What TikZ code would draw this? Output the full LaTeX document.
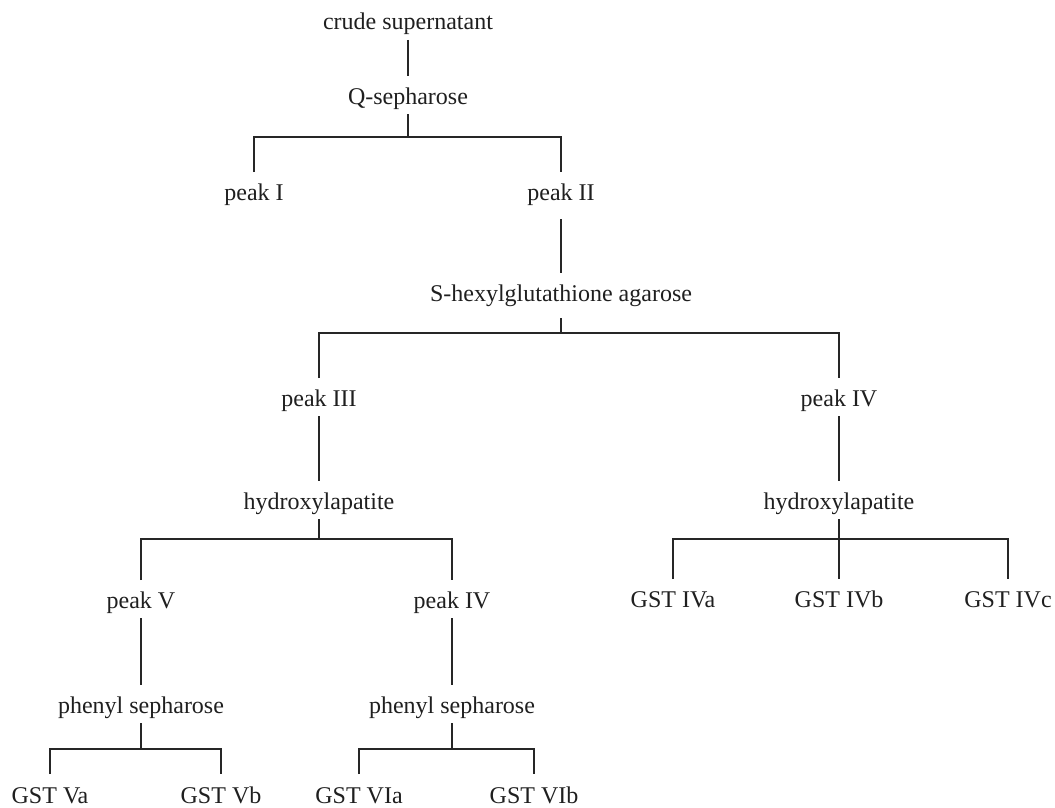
\documentclass[tikz,border=0pt]{standalone}
\usepackage{fontspec}
\setmainfont{Liberation Serif}
\begin{document}
\begin{tikzpicture}[x=1pt,y=-1pt,
  lbl/.style={anchor=base, inner sep=0pt, outer sep=0pt, text height=28pt, text depth=10pt, font=\fontsize{24}{28}\selectfont, text=black!88},
  conn/.style={line width=1.15pt, draw=black!85}]
\useasboundingbox (0,0) rectangle (1055,808);
% nodes
\node[lbl] (crude) at (408,30) {crude supernatant};
\node[lbl] (Q) at (408,104) {Q-sepharose};
\node[lbl] (pI) at (254,200) {peak I};
\node[lbl] (pII) at (561,200) {peak II};
\node[lbl] (SH) at (561,301) {S-hexylglutathione agarose};
\node[lbl] (pIII) at (319,406) {peak III};
\node[lbl] (pIVr) at (839,406) {peak IV};
\node[lbl] (HL) at (319,509) {hydroxylapatite};
\node[lbl] (HR) at (839,509) {hydroxylapatite};
\node[lbl] (pV) at (141,608) {peak V};
\node[lbl] (pIVl) at (452,608) {peak IV};
\node[lbl] (IVa) at (673,607) {GST IVa};
\node[lbl] (IVb) at (839,607) {GST IVb};
\node[lbl] (IVc) at (1008,607) {GST IVc};
\node[lbl] (PL) at (141,713) {phenyl sepharose};
\node[lbl] (PR) at (452,713) {phenyl sepharose};
\node[lbl] (Va) at (50,803) {GST Va};
\node[lbl] (Vb) at (221,803) {GST Vb};
\node[lbl] (VIa) at (359,803) {GST VIa};
\node[lbl] (VIb) at (534,803) {GST VIb};
% junctions
\coordinate (jQ) at (408,137);
\coordinate (jS) at (561,333);
\coordinate (jHL) at (319,539);
\coordinate (jHR) at (839,539);
\coordinate (jPL) at (141,749);
\coordinate (jPR) at (452,749);
\coordinate (pIIs) at ([yshift=-9pt]pII.south);
\coordinate (SHs) at ([yshift=-7pt]SH.south);
% connectors
\draw[conn] (crude) -- (Q);
\draw[conn] (Q) -- (jQ);
\draw[conn] (pI.north) |- (jQ) -| (pII.north);
\draw[conn] (pIIs) -- (SH.north);
\draw[conn] (SHs) -- (jS);
\draw[conn] (pIII.north) |- (jS) -| (pIVr.north);
\draw[conn] (pIII) -- (HL);
\draw[conn] (pIVr) -- (HR);
\draw[conn] (HL) -- (jHL);
\draw[conn] (pV.north) |- (jHL) -| (pIVl.north);
\draw[conn] (HR) -- (IVb);
\draw[conn] (IVa.north) |- (jHR) -| (IVc.north);
\draw[conn] (pV) -- (PL);
\draw[conn] (pIVl) -- (PR);
\draw[conn] (PL) -- (jPL);
\draw[conn] (PR) -- (jPR);
\draw[conn] ([yshift=1pt]Va.north) |- (jPL) -| ([yshift=1pt]Vb.north);
\draw[conn] ([yshift=1pt]VIa.north) |- (jPR) -| ([yshift=1pt]VIb.north);
\end{tikzpicture}
\end{document}
